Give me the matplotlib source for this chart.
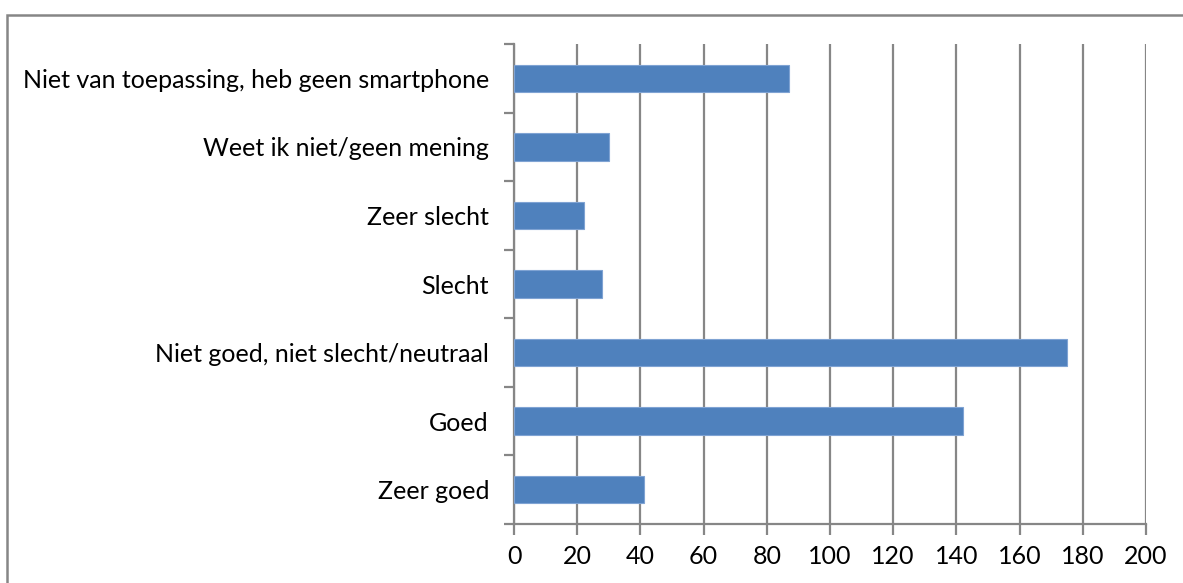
import matplotlib.pyplot as plt
from matplotlib.patches import Rectangle
import numpy as np

# Survey answers, bottom to top as drawn
categories = [
    'Zeer goed',
    'Goed',
    'Niet goed, niet slecht/neutraal',
    'Slecht',
    'Zeer slecht',
    'Weet ik niet/geen mening',
    'Niet van toepassing, heb geen smartphone',
]
counts = [41, 142, 175, 28, 22, 30, 87]
x_ticks = list(range(0, 201, 20))

grey = '#868686'
plt.rcParams['font.family'] = ['Lato', 'DejaVu Sans']

fig = plt.figure(figsize=(11.83, 5.83), dpi=100)
ax = fig.add_axes([514 / 1183, 1 - 524 / 583, (1146 - 514) / 1183, (524 - 44) / 583])

# Outer chart border (runs off the right and bottom edges)
fig.patches.append(Rectangle((7 / 1183, -0.05), 1.2, 1 - 15 / 583 + 0.05,
                             transform=fig.transFigure, fill=False,
                             edgecolor=grey, linewidth=1.8))

y = np.arange(len(categories))
ax.barh(y, counts, height=0.4, color='#4F81BD', edgecolor='#7FA3D3',
        linewidth=0.8, zorder=3)

ax.set_xlim(0, 200)
ax.set_ylim(-0.5, len(categories) - 0.5)
ax.set_xticks(x_ticks)
ax.set_xticklabels([str(v) for v in x_ticks], fontsize=18)
ax.xaxis.grid(True, color=grey, linewidth=1.6, zorder=0)

ax.set_yticks(y)
ax.set_yticklabels(categories, fontsize=18)
ax.set_yticks(np.arange(-0.5, len(categories)), minor=True)
ax.tick_params(axis='y', which='major', length=0, pad=18)
ax.tick_params(axis='y', which='minor', length=7, width=1.6, color=grey)
ax.tick_params(axis='x', length=8, width=1.6, color=grey, pad=7)

for side in ['top', 'right']:
    ax.spines[side].set_visible(False)
for side in ['left', 'bottom']:
    ax.spines[side].set_color(grey)
    ax.spines[side].set_linewidth(1.6)

fig.savefig('out.png', dpi=100)
